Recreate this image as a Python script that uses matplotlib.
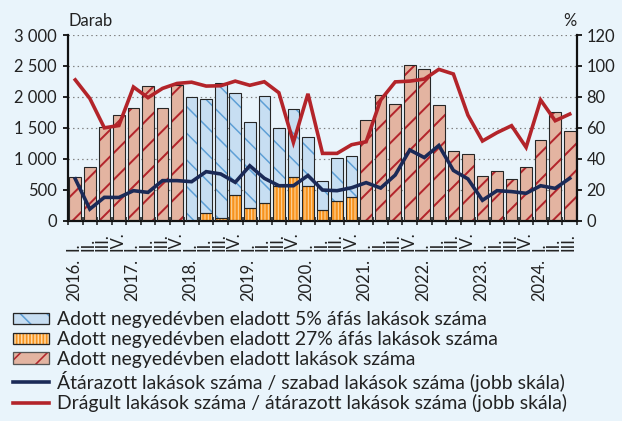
import matplotlib
matplotlib.use("Agg")
import matplotlib.pyplot as plt
from matplotlib.patches import Patch
from matplotlib.lines import Line2D
from matplotlib.ticker import FuncFormatter
import numpy as np

# ---------------- data ----------------
years = ["2016.", "2017.", "2018.", "2019.", "2020.", "2021.", "2022.", "2023.", "2024."]
quarter_names = ["I.", "II.", "III.", "IV."]
n_quarters = 35

# sold dwellings in the quarter (total, outside the 5% VAT period)
sold_total = [710, 860, 1520, 1700, 1820, 2170, 1815, 2190] + [None] * 12 + \
             [1620, 2030, 1885, 2515, 2445, 1863, 1126, 1072, 715, 803, 668, 860, 1305, 1750, 1450]
# sold with 27% VAT (2018-2020)
sold_vat27 = [None] * 8 + [0, 130, 40, 420, 210, 290, 555, 700, 560, 173, 315, 378] + [None] * 15
# sold with 5% VAT (2018-2020)
sold_vat5 = [None] * 8 + [2000, 1830, 2180, 1650, 1390, 1720, 935, 1100, 800, 462, 692, 662] + [None] * 15

# repriced / free dwellings (%) - right scale
repriced_share = [27, 7.5, 15.1, 15, 19.4, 18.3, 25.9, 25.9, 25.2, 31.7, 30.2, 24.8, 35.5, 27.4,
                  22.6, 22.6, 29.2, 19.8, 19.4, 21.3, 24.6, 21.1, 29.5, 45.7, 40.8, 48.6, 32.5,
                  27.0, 13.2, 19.4, 18.8, 17.7, 22.6, 20.9, 27.4]
# price-increased / repriced dwellings (%) - right scale
increased_share = [91, 79, 60, 61.5, 86.4, 79.5, 85.5, 88.7, 89.5, 87, 87.2, 90.2, 87.5, 89.8,
                   82.7, 50.6, 82, 43.5, 43.5, 49.1, 51, 78, 89.7, 90.2, 91.5, 97.8, 94.8,
                   68.2, 51.5, 56.9, 61.4, 47.4, 78, 64.6, 68.9]

legend_labels = [
    "Adott negyedévben eladott 5% áfás lakások száma",
    "Adott negyedévben eladott 27% áfás lakások száma",
    "Adott negyedévben eladott lakások száma",
    "Átárazott lakások száma / szabad lakások száma (jobb skála)",
    "Drágult lakások száma / átárazott lakások száma (jobb skála)",
]

# ---------------- style ----------------
DPI = 80
P = 72.0 / DPI          # px -> pt
W_PX, H_PX = 622, 421
BG = "#E9F4FB"
TXT = "#222222"
BROWN_FACE, BROWN_HATCH = "#E3B4A1", "#B3252C"
BLUE_FACE, BLUE_HATCH = "#C7DEF2", "#5E9FD6"
ORANGE_FACE, ORANGE_HATCH = "#F7931E", "#FDD9A6"
NAVY, RED = "#1B2A57", "#B3242A"
EDGE = "#262626"
FS_PX = 16.5
FS = FS_PX * P
LFS_PX = 19.4
LFS = LFS_PX * P

plt.rcParams["font.family"] = ["Lato", "DejaVu Sans"]
plt.rcParams["hatch.linewidth"] = 1.6 * P
plt.rcParams["text.color"] = TXT

fig = plt.figure(figsize=(W_PX / DPI, H_PX / DPI), dpi=DPI, facecolor=BG)
L, R, T, B = 68, 577, 35, 220.7
ax = fig.add_axes([L / W_PX, 1 - B / H_PX, (R - L) / W_PX, (B - T) / H_PX])
ax.set_facecolor(BG)

x = np.arange(n_quarters)
BW = 0.8


def hatched_bars(xs, hs, bottoms, face, hatch, hcolor, hlw_px, edge_lw_px=1.1):
    b1 = ax.bar(xs, hs, BW, bottom=bottoms, color=face, edgecolor=hcolor,
                hatch=hatch, linewidth=0, zorder=2)
    for p in b1:
        if hasattr(p, "set_hatch_linewidth"):
            p.set_hatch_linewidth(hlw_px * P)
    ax.bar(xs, hs, BW, bottom=bottoms, fill=False, edgecolor=EDGE,
           linewidth=edge_lw_px * P, zorder=3)


ib = [i for i, v in enumerate(sold_total) if v is not None]
hatched_bars(ib, [sold_total[i] for i in ib], 0, BROWN_FACE, "/", BROWN_HATCH, 2.0)

iv = [i for i, v in enumerate(sold_vat27) if v is not None]
v27 = [sold_vat27[i] for i in iv]
v5 = [sold_vat5[i] for i in iv]
hatched_bars(iv, v5, v27, BLUE_FACE, "\\", BLUE_HATCH, 1.5)
iv27 = [i for i in iv if sold_vat27[i] > 0]
hatched_bars(iv27, [sold_vat27[i] for i in iv27], 0, ORANGE_FACE, "||||", ORANGE_HATCH, 1.0)

ax.set_xlim(-0.5, n_quarters - 0.5)
ax.set_ylim(0, 3000)
ax.set_yticks(np.arange(0, 3001, 500))
ax.yaxis.set_major_formatter(FuncFormatter(lambda v, p: f"{int(v):,}".replace(",", " ")))
ax.grid(axis="y", color="#7f7f7f", linewidth=1.2 * P, linestyle=(0, (1.2, 2.6)), zorder=0)
ax.set_axisbelow(True)
ax.set_xticks(np.arange(-0.5, n_quarters, 1))
ax.set_xticklabels([])
ax.tick_params(axis="x", direction="inout", length=8 * P, width=1.5 * P, color="#111111")
ax.tick_params(axis="y", direction="out", length=5 * P, width=1.8 * P, pad=6 * P,
               labelsize=FS, labelcolor=TXT, color="#111111")
for s in ["top", "right"]:
    ax.spines[s].set_visible(False)
ax.spines["left"].set_linewidth(2.2 * P)
ax.spines["bottom"].set_linewidth(2.2 * P)
ax.spines["left"].set_color("#111111")
ax.spines["bottom"].set_color("#111111")

ax2 = ax.twinx()
ax2.set_ylim(0, 120)
ax2.set_yticks(np.arange(0, 121, 20))
ax2.plot(x, repriced_share, color=NAVY, linewidth=3.6 * P, zorder=5, solid_joinstyle="miter")
ax2.plot(x, increased_share, color=RED, linewidth=3.6 * P, zorder=5, solid_joinstyle="miter")
for s in ["top", "left", "bottom"]:
    ax2.spines[s].set_visible(False)
ax2.spines["right"].set_linewidth(2.2 * P)
ax2.spines["right"].set_color("#111111")
ax2.tick_params(axis="y", direction="out", length=5 * P, width=1.8 * P, pad=4.5 * P,
                labelsize=FS, labelcolor=TXT, color="#111111")

# category labels (two-level axis)
qlabels = [q for _ in years for q in quarter_names][:n_quarters]
for i, lab in enumerate(qlabels):
    ax.annotate(lab, xy=(i, 0), xycoords=("data", "axes fraction"),
                xytext=(-1.5 * P, -30.5 * P), textcoords="offset points",
                rotation=90, ha="center", va="bottom", fontsize=FS, color=TXT)
for k, yl in enumerate(years):
    ax.annotate(yl, xy=(4 * k, 0), xycoords=("data", "axes fraction"),
                xytext=(-1.5 * P, -80.5 * P), textcoords="offset points",
                rotation=90, ha="center", va="bottom", fontsize=FS, color=TXT)

fig.text(L / W_PX, 1 - 26.5 / H_PX, "Darab", ha="left", va="baseline", fontsize=FS, color=TXT)
fig.text(R / W_PX, 1 - 26 / H_PX, "%", ha="right", va="baseline", fontsize=FS, color=TXT)

# legend
def patch_handle(face, hatch, hcolor, hlw_px, ecol):
    p1 = Patch(facecolor=face, edgecolor=hcolor, hatch=hatch, linewidth=0)
    if hasattr(p1, "set_hatch_linewidth"):
        p1.set_hatch_linewidth(hlw_px * P)
    p2 = Patch(fill=False, edgecolor=ecol, linewidth=1.3 * P)
    return (p1, p2)


handles = [
    patch_handle(BLUE_FACE, "\\", BLUE_HATCH, 1.5, EDGE),
    patch_handle(ORANGE_FACE, "||||", ORANGE_HATCH, 1.0, EDGE),
    patch_handle(BROWN_FACE, "/", BROWN_HATCH, 2.0, "#555555"),
    Line2D([], [], color=NAVY, linewidth=3.6 * P),
    Line2D([], [], color=RED, linewidth=3.6 * P),
]
fig.legend(handles, legend_labels, loc="upper left",
           bbox_to_anchor=(12.7 / W_PX, 1 - 311.5 / H_PX), bbox_transform=fig.transFigure,
           frameon=False, fontsize=LFS, borderpad=0, borderaxespad=0,
           handlelength=36.6 / LFS_PX, handleheight=10.5 / LFS_PX,
           handletextpad=8 / LFS_PX, labelspacing=0.14, labelcolor=TXT)

fig.savefig("out.png", dpi=DPI, facecolor=BG)
